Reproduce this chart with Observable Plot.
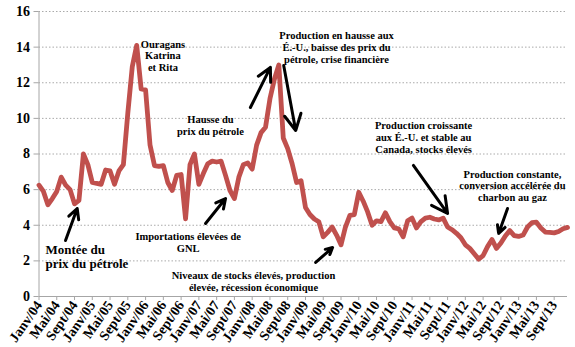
<!DOCTYPE html>
<html><head><meta charset="utf-8">
<script src="https://cdn.jsdelivr.net/npm/d3@7"></script>
<script src="https://cdn.jsdelivr.net/npm/@observablehq/plot@0.6"></script>
<style>html,body{margin:0;padding:0;background:#fff}</style>
</head><body><div id="chart"></div>
<script>
// Monthly price, Janv/04 .. Déc/13 (one value per month)
const prices = [
  6.25, 5.9, 5.15, 5.5, 5.9, 6.7, 6.25, 6.0, 5.2, 5.4, 8.0, 7.4,
  6.4, 6.35, 6.3, 7.1, 7.05, 6.3, 7.05, 7.4, 10.3, 12.9, 14.1, 11.65,
  11.6, 8.5, 7.35, 7.3, 7.35, 6.4, 5.95, 6.8, 6.85, 4.36, 7.4, 8.0,
  6.3, 6.9, 7.45, 7.6, 7.55, 7.6, 6.8, 5.95, 5.5, 6.7, 7.4, 7.5,
  7.15, 8.5, 9.2, 9.5, 11.1, 12.2, 13.0, 8.9, 8.3, 7.45, 6.4, 6.5,
  5.0, 4.6, 4.35, 4.2, 3.35, 3.6, 3.9, 3.45, 2.9, 3.9, 4.55, 4.6,
  5.85, 5.35, 4.75, 4.0, 4.25, 4.2, 4.7, 4.2, 3.85, 3.8, 3.35, 4.25,
  4.4, 3.85, 4.2, 4.4, 4.45, 4.35, 4.3, 4.4, 3.9, 3.75, 3.55, 3.3,
  2.9, 2.7, 2.4, 2.1, 2.3, 2.8, 3.2, 2.7, 3.0, 3.4, 3.7, 3.42,
  3.37, 3.45, 3.9, 4.15, 4.17, 3.85, 3.62, 3.6, 3.57, 3.65, 3.8, 3.88
];
const tickLabels = [
  "Janv/04","Mai/04","Sept/04","Janv/05","Mai/05","Sept/05","Janv/06","Mai/06","Sept/06",
  "Janv/07","Mai/07","Sept/07","Janv/08","Mai/08","Sept/08","Janv/09","Mai/09","Sept/09",
  "Janv/10","Mai/10","Sept/10","Janv/11","Mai/11","Sept/11","Janv/12","Mai/12","Sept/12",
  "Janv/13","Mai/13","Sept/13"
];
const yTicks = [0, 2, 4, 6, 8, 10, 12, 14, 16];

// Annotations (month index, price)
const noteTexts = [
  "Ouragans\nKatrina\net Rita",
  "Hausse du\nprix du pétrole",
  "Importations élevées de\nGNL",
  "Niveaux de stocks élevés, production\nélevée, récession économique",
  "Production en hausse aux\nÉ.-U., baisse des prix du\npétrole, crise financière",
  "Production croissante\naux É.-U. et stable au\nCanada, stocks élevés",
  "Production constante,\nconversion accélérée du\ncharbon au gaz"
];
const noteX = [27.9, 38.6, 33.6, 48.3, 67.0, 86.6, 106.6];
const noteY = [13.53, 9.63, 3.03, 0.84, 13.98, 8.93, 6.23];
const arrowX1 = [5.97, 37.5, 62.3, 47.6, 55.1, 84.3, 105.5];
const arrowY1 = [3.14, 4.1, 1.91, 10.61, 12.97, 7.36, 4.94];
const arrowX2 = [8.6, 42.0, 66.1, 52.1, 57.8, 92.0, 103.5];
const arrowY2 = [4.94, 5.5, 2.75, 12.86, 9.32, 4.66, 3.54];

const series = prices.map((v, i) => ({i, v}));
const notes = noteTexts.map((t, k) => ({t, x: noteX[k], y: noteY[k]}));
const arrows = arrowX1.map((_, k) => ({x1: arrowX1[k], y1: arrowY1[k], x2: arrowX2[k], y2: arrowY2[k]}));
const tickIdx = tickLabels.map((_, k) => k * 4);

const serif = "'Liberation Serif', 'Times New Roman', serif";

const chart = Plot.plot({
  width: 575,
  height: 347,
  marginLeft: 38.5,
  marginRight: 8,
  marginTop: 11,
  marginBottom: 51,
  style: {fontFamily: serif, fontWeight: "bold", color: "black", background: "white"},
  x: {domain: [0, 119]},
  y: {domain: [0, 16]},
  marks: [
    Plot.gridY(yTicks.filter(d => d > 0), {stroke: "#aaa", strokeOpacity: 1, strokeDasharray: "1.5,2"}),
    Plot.ruleY([0], {stroke: "#a6a6a6"}),
    Plot.ruleX([0], {stroke: "#a6a6a6"}),
    Plot.axisY({ticks: yTicks, tickSize: 5, tickPadding: 4, fontSize: 14, stroke: "#a6a6a6", fill: "black", label: null}),
    Plot.axisX({ticks: tickIdx, tickFormat: i => tickLabels[i / 4], tickRotate: -55, tickSize: 4, tickPadding: 2, fontSize: 14, stroke: "#a6a6a6", fill: "black", label: null}),
    Plot.line(series, {x: "i", y: "v", stroke: "#c0504d", strokeWidth: 4.8, strokeLinejoin: "round", strokeLinecap: "round"}),
    Plot.arrow(arrows, {x1: "x1", y1: "y1", x2: "x2", y2: "y2", stroke: "black", strokeWidth: 3, headLength: 9, headAngle: 55}),
    Plot.text(notes, {x: "x", y: "y", text: "t", fontSize: 10.5, lineHeight: 1.12, fill: "black", textAnchor: "middle", lineAnchor: "middle"}),
    Plot.text(["Montée du\nprix du pétrole"], {x: 1.46, y: 2.25, text: d => d, fontSize: 13, lineHeight: 1.1, fill: "black", textAnchor: "start", lineAnchor: "middle"})
  ]
});
document.getElementById("chart").appendChild(chart);
</script>
</body></html>
